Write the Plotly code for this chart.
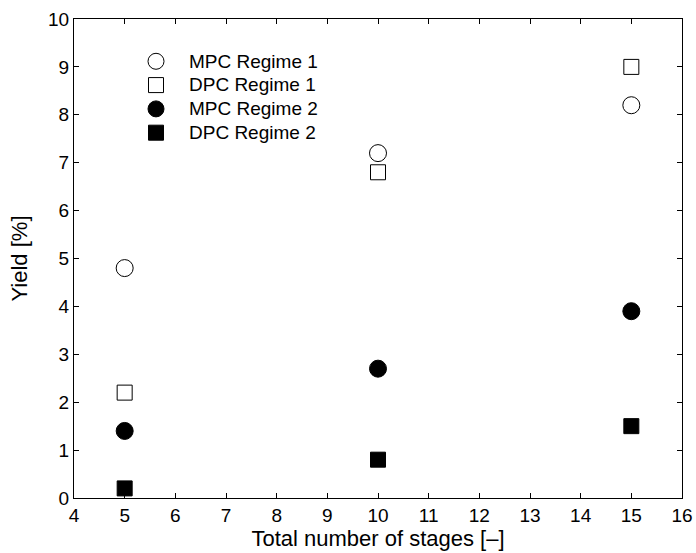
import plotly.graph_objects as go

stages = [5, 10, 15]
mpc_regime1 = [4.8, 7.2, 8.2]
dpc_regime1 = [2.2, 6.8, 9.0]
mpc_regime2 = [1.4, 2.7, 3.9]
dpc_regime2 = [0.2, 0.8, 1.5]

series = [
    ("MPC Regime 1", mpc_regime1, "circle-open", 17),
    ("DPC Regime 1", dpc_regime1, "square-open", 15),
    ("MPC Regime 2", mpc_regime2, "circle", 17),
    ("DPC Regime 2", dpc_regime2, "square", 15),
]

fig = go.Figure()
for name, vals, sym, size in series:
    fig.add_trace(go.Scatter(
        x=stages, y=vals, mode="markers",
        # legend rows stay compact while the label text is drawn larger
        name=f'<span style="font-size:19px">{name}</span>',
        marker=dict(symbol=sym, size=size, color="black",
                    line=dict(color="black", width=1)),
    ))

family = "Liberation Sans, Arial, sans-serif"
tick_font = dict(family=family, size=19, color="black")
title_font = dict(family=family, size=22, color="black")
legend_font = dict(family=family, size=16, color="black")

axis_common = dict(
    showgrid=False, zeroline=False, showline=True, linecolor="black", linewidth=1,
    mirror="allticks", ticks="inside", ticklen=5, tickcolor="black", tickwidth=1,
    tickfont=tick_font, automargin=False,
)

fig.update_layout(
    width=696, height=553,
    margin=dict(l=74, r=14, t=19, b=55),
    paper_bgcolor="white", plot_bgcolor="white",
    font=tick_font,
    showlegend=True,
    legend=dict(x=0.0806, y=0.947, xanchor="left", yanchor="top",
                bgcolor="rgba(0,0,0,0)", font=legend_font, tracegroupgap=0,
                itemwidth=56, itemsizing="trace"),
    xaxis=dict(range=[4, 16], dtick=1, tick0=4,
               title=dict(text="Total number of stages [–]", standoff=4, font=title_font),
               **axis_common),
    yaxis=dict(range=[0, 10], dtick=1, tick0=0,
               title=dict(text="Yield [%]", standoff=14, font=title_font),
               **axis_common),
)

fig.write_html("out.html")
